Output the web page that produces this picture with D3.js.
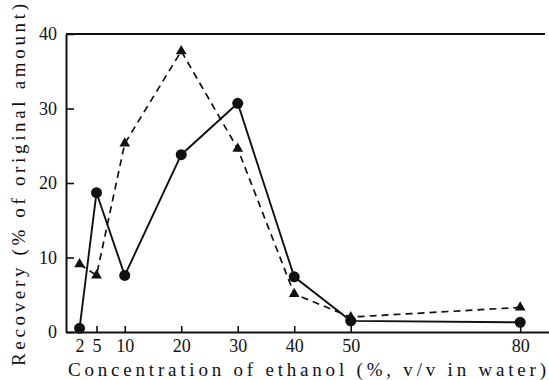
<!DOCTYPE html>
<html>
<head>
<meta charset="utf-8">
<script src="https://cdn.jsdelivr.net/npm/d3@7"></script>
<style>
  body { margin: 0; background: #fff; }
  svg text { fill: #111; }
</style>
</head>
<body>
<script>
// Drawing area
const w = 549;
const h = 380;

// Plot box edges
const boxLeft = 66;
const boxTop = 34;
const boxBottom = 332;
const boxRight = 549;

const serif = "'Liberation Serif', 'Times New Roman', Times, 'DejaVu Serif', 'Noto Serif', serif";

// Data
const concentrations = [2, 5, 10, 20, 30, 40, 50, 80];
const circleValues = [0.5, 18.7, 7.6, 23.8, 30.7, 7.4, 1.5, 1.3];
const triangleValues = [9.1, 7.6, 25.3, 37.7, 24.6, 5.1, 2.0, 3.3];
const yTicks = [0, 10, 20, 30, 40];
const xTicks = [2, 5, 10, 20, 30, 40, 50, 80];

const svg = d3.select("body").append("svg").attr("width", w).attr("height", h);

const xScale = d3.scaleLinear().domain([-0.4, 85.1]).range([boxLeft, boxRight]);
const yScale = d3.scaleLinear().domain([0, 40]).range([boxBottom, boxTop]);

// Axes, ticks drawn inside the box
const yAxis = d3.axisLeft(yScale).tickValues(yTicks).tickSizeInner(-8).tickSizeOuter(0).tickPadding(9);
const xAxis = d3.axisBottom(xScale).tickValues(xTicks).tickSizeInner(-6).tickSizeOuter(0).tickPadding(9);

const gy = svg.append("g").attr("transform", "translate(" + boxLeft + ",0)").call(yAxis);
const gx = svg.append("g").attr("transform", "translate(0," + boxBottom + ")").call(xAxis);

[gx, gy].forEach(g => {
  g.attr("font-family", serif).attr("font-size", 18);
  g.select(".domain").attr("stroke", "#111").attr("stroke-width", 2);
  g.selectAll(".tick line").attr("stroke", "#111").attr("stroke-width", 1.6);
  g.selectAll(".tick text").style("font-family", serif).style("font-size", "18px").attr("fill", "#111");
});
gx.selectAll(".tick text").attr("dy", "0.62em");

// top border
svg.append("line")
  .attr("x1", boxLeft).attr("x2", 545)
  .attr("y1", boxTop).attr("y2", boxTop)
  .attr("stroke", "#111").attr("stroke-width", 2);

const line = d3.line()
  .x((d, i) => xScale(concentrations[i]))
  .y(d => yScale(d));

// dashed triangle series
svg.append("path")
  .datum(triangleValues)
  .attr("d", line)
  .attr("fill", "none")
  .attr("stroke", "#111")
  .attr("stroke-width", 1.7)
  .attr("stroke-dasharray", "7,5");

// solid circle series
svg.append("path")
  .datum(circleValues)
  .attr("d", line)
  .attr("fill", "none")
  .attr("stroke", "#111")
  .attr("stroke-width", 1.9);

svg.selectAll(".tri")
  .data(triangleValues)
  .enter()
  .append("path")
  .attr("class", "tri")
  .attr("d", d3.symbol().type(d3.symbolTriangle).size(50))
  .attr("transform", (d, i) => "translate(" + xScale(concentrations[i]) + "," + yScale(d) + ")")
  .attr("fill", "#111");

svg.selectAll(".dot")
  .data(circleValues)
  .enter()
  .append("circle")
  .attr("class", "dot")
  .attr("cx", (d, i) => xScale(concentrations[i]))
  .attr("cy", d => yScale(d))
  .attr("r", 5.5)
  .attr("fill", "#111");

// Axis titles
svg.append("text")
  .attr("x", 68)
  .attr("y", 376)
  .attr("textLength", 478)
  .attr("lengthAdjust", "spacing")
  .style("font-family", serif)
  .style("font-size", "19px")
  .text("Concentration of ethanol (%, v/v in water)");

svg.append("text")
  .attr("transform", "translate(25,366) rotate(-90)")
  .attr("textLength", 362)
  .attr("lengthAdjust", "spacing")
  .style("font-family", serif)
  .style("font-size", "19px")
  .text("Recovery (% of original amount)");
</script>
</body>
</html>
